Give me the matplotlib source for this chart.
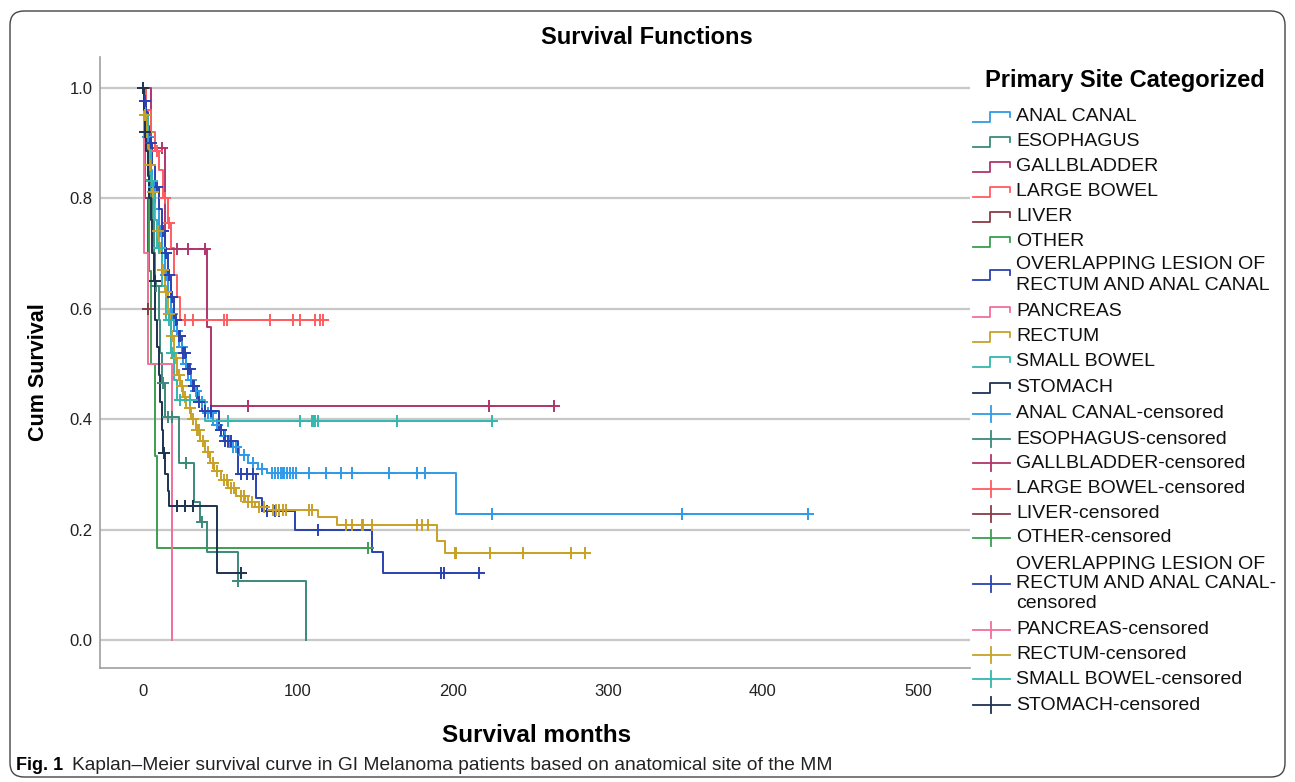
import numpy as np
import matplotlib
matplotlib.use('Agg')
import matplotlib.pyplot as plt
from matplotlib.patches import FancyBboxPatch

plt.rcParams['font.family'] = ['Liberation Sans', 'DejaVu Sans']

# ---- data: event times (months), survival after each event, censor times ----
anal_t = [1, 2, 3, 4, 5, 6, 8, 10, 12, 14, 16, 18, 20, 23, 26, 29, 32, 36, 40, 45, 50, 56, 62, 68, 74, 80, 202]
anal_s = [0.97, 0.94, 0.91, 0.88, 0.85, 0.82, 0.78, 0.74, 0.70, 0.66, 0.62, 0.59, 0.56, 0.53, 0.50, 0.47,
          0.45, 0.43, 0.41, 0.39, 0.37, 0.35, 0.335, 0.32, 0.31, 0.303, 0.228]
anal_c = [3.5, 7, 11, 15, 19, 22, 25, 28, 31, 34, 38, 42, 44, 48, 53, 58, 60, 65, 71, 77, 83, 85, 87, 89,
          90, 91, 93, 95, 97, 99, 107, 118, 128, 135, 159, 177, 182, 225, 348, 429]

eso_t = [1, 2, 3, 4, 5, 6, 7, 8, 10, 11, 12, 14, 23, 33, 37, 41, 61, 105]
eso_s = [0.96, 0.92, 0.88, 0.84, 0.80, 0.76, 0.70, 0.64, 0.58, 0.52, 0.465, 0.404, 0.32, 0.25, 0.213,
         0.16, 0.107, 0.0]
eso_c = [8.5, 13, 16, 19, 28, 38, 61.5]

gall_t = [5, 14, 41, 44]
gall_s = [0.89, 0.707, 0.566, 0.424]
gall_c = [12, 22, 29, 40, 68, 223, 265]

lbow_t = [2, 5, 8, 10, 13, 16, 18, 20, 22, 24]
lbow_s = [0.96, 0.92, 0.885, 0.85, 0.80, 0.755, 0.71, 0.66, 0.62, 0.58]
lbow_c = [9, 14, 17, 27, 32, 52, 54, 82, 97, 101, 111, 114, 116]

liver_t = [1, 3]
liver_s = [0.80, 0.60]
liver_c = [3.5]

other_t = [1, 4, 5, 8, 9]
other_s = [0.833, 0.667, 0.5, 0.333, 0.167]
other_c = [145]

over_t = [1, 2, 3, 4, 6, 8, 10, 12, 14, 16, 18, 20, 22, 25, 28, 31, 35, 38, 49, 52, 61, 73, 77, 98, 148, 155]
over_s = [0.975, 0.955, 0.93, 0.90, 0.86, 0.82, 0.78, 0.74, 0.70, 0.66, 0.62, 0.58, 0.55, 0.52, 0.49, 0.46,
          0.43, 0.415, 0.38, 0.36, 0.30, 0.257, 0.233, 0.20, 0.16, 0.121]
over_c = [1.5, 5, 9, 13, 15, 17, 19, 21, 23, 24, 26, 27, 29, 30, 32, 33, 36, 40, 44, 50, 53, 55, 57, 63,
          67, 71, 80, 85, 88, 113, 192, 194, 217]

panc_t = [0.5, 3, 19]
panc_s = [0.70, 0.50, 0.0]
panc_c = []

rect_t = [0.5, 1, 2, 3, 4, 5, 6, 7, 8, 9, 10, 12, 14, 16, 18, 20, 22, 24, 26, 28, 31, 34, 37, 40, 43, 46,
          50, 55, 60, 66, 72, 80, 113, 125, 190, 195]
rect_s = [0.975, 0.95, 0.92, 0.89, 0.86, 0.84, 0.81, 0.79, 0.76, 0.74, 0.71, 0.67, 0.63, 0.59, 0.55, 0.51,
          0.48, 0.46, 0.44, 0.42, 0.40, 0.38, 0.36, 0.34, 0.32, 0.305, 0.29, 0.275, 0.26, 0.25, 0.24,
          0.235, 0.223, 0.208, 0.18, 0.157]
rect_c = [1.5, 2.5, 4.5, 6.5, 9.5, 11, 13, 15, 17, 19, 21, 23, 25, 27, 30, 32, 35, 36, 39, 42, 45, 48, 52,
          54, 57, 59, 63, 65, 68, 70, 75, 78, 84, 86, 88, 90, 92, 107, 109, 131, 135, 141, 142, 148,
          177, 180, 184, 201, 202, 224, 245, 276, 285]

sbow_t = [1, 3, 5, 7, 9, 12, 15, 18, 20, 22, 40]
sbow_s = [0.95, 0.90, 0.83, 0.76, 0.71, 0.64, 0.58, 0.52, 0.47, 0.434, 0.397]
sbow_c = [6, 10, 17, 19, 24, 30, 55, 101, 109, 110, 111, 113, 164, 225]

stom_t = [0.5, 1, 2, 3, 4, 5, 6, 7, 8, 9, 10, 11, 12, 13, 14, 16, 17, 48]
stom_s = [0.96, 0.92, 0.885, 0.84, 0.80, 0.76, 0.70, 0.65, 0.58, 0.53, 0.48, 0.43, 0.38, 0.338, 0.30,
          0.27, 0.243, 0.121]
stom_c = [0.2, 1.5, 7.5, 13.5, 22, 27, 32, 63]

sites = ['ANAL CANAL', 'ESOPHAGUS', 'GALLBLADDER', 'LARGE BOWEL', 'LIVER', 'OTHER',
         'OVERLAPPING LESION OF\nRECTUM AND ANAL CANAL', 'PANCREAS', 'RECTUM', 'SMALL BOWEL', 'STOMACH']
censor_labels = ['ANAL CANAL-censored', 'ESOPHAGUS-censored', 'GALLBLADDER-censored',
                 'LARGE BOWEL-censored', 'LIVER-censored', 'OTHER-censored',
                 'OVERLAPPING LESION OF\nRECTUM AND ANAL CANAL-\ncensored', 'PANCREAS-censored',
                 'RECTUM-censored', 'SMALL BOWEL-censored', 'STOMACH-censored']
colors = ['#2f9be8', '#3b8a7c', '#b0356c', '#ff5c60', '#8a3a46', '#3c9e50',
          '#2a42b0', '#f0709c', '#c8a127', '#33b7ae', '#1d3350']

series = [(anal_t, anal_s, anal_c), (eso_t, eso_s, eso_c), (gall_t, gall_s, gall_c),
          (lbow_t, lbow_s, lbow_c), (liver_t, liver_s, liver_c), (other_t, other_s, other_c),
          (over_t, over_s, over_c), (panc_t, panc_s, panc_c), (rect_t, rect_s, rect_c),
          (sbow_t, sbow_s, sbow_c), (stom_t, stom_s, stom_c)]


def km_curve(t, s, c):
    end = max(t[-1], max(c) if c else 0)
    x = np.array([0] + list(t) + [end])
    y = np.array([1.0] + list(s) + [s[-1]])
    c = np.array(c, dtype=float)
    idx = np.searchsorted(np.array(t), c, side='right')
    cy = np.concatenate([[1.0], s])[idx] if len(c) else np.array([])
    return x, y, c, cy


fig = plt.figure(figsize=(12.95, 7.82), dpi=100)
ax = fig.add_axes([100 / 1295, 1 - 668 / 782, 870 / 1295, 611 / 782])

for (t, s, c), col in zip(series, colors):
    x, y, cx, cy = km_curve(t, s, c)
    ax.step(x, y, where='post', color=col, lw=1.4, zorder=3)
    if len(cx):
        ax.plot(cx, cy, ls='none', marker='+', ms=9, mew=1.4, color=col, zorder=4)

ax.set_xlim((100 - 143) / 1.55, (970 - 143) / 1.55)
ax.set_ylim((640 - 668) / 552.5, (640 - 57) / 552.5)
ax.set_xticks([0, 100, 200, 300, 400, 500])
ax.set_yticks([0.0, 0.2, 0.4, 0.6, 0.8, 1.0])
ax.set_yticklabels(['0.0', '0.2', '0.4', '0.6', '0.8', '1.0'])
ax.tick_params(length=0, labelsize=12, colors='#222222')
ax.tick_params(axis='x', pad=11.5)
ax.tick_params(axis='y', pad=5.5)
ax.grid(axis='y', color='#c8c8c8', lw=1.6, zorder=0)
for side in ['top', 'right']:
    ax.spines[side].set_visible(False)
for side in ['left', 'bottom']:
    ax.spines[side].set_color('#a0a0a0')
    ax.spines[side].set_linewidth(1.2)

# overlay in pixel coordinates for texts, legend and frame
lax = fig.add_axes([0, 0, 1, 1], zorder=-1)
lax.set_xlim(0, 1295)
lax.set_ylim(782, 0)
lax.axis('off')
lax.add_patch(FancyBboxPatch((10, 11), 1275, 766, boxstyle='round,pad=0,rounding_size=14',
                             fc='none', ec='#444444', lw=1.0))

fig.text(647 / 1295, 1 - 37 / 782, 'Survival Functions', ha='center', va='center',
         fontsize=17, fontweight='bold')
fig.text(38 / 1295, 1 - 372 / 782, 'Cum Survival', ha='center', va='center', rotation=90,
         fontsize=15.5, fontweight='bold')
fig.text(537 / 1295, 1 - 735 / 782, 'Survival months', ha='center', va='center',
         fontsize=17.5, fontweight='bold')
fig.text(985 / 1295, 1 - 80 / 782, 'Primary Site Categorized', ha='left', va='center',
         fontsize=17, fontweight='bold')

# legend
ov = fig.add_axes([0, 0, 1, 1])
ov.set_xlim(0, 1295)
ov.set_ylim(782, 0)
ov.axis('off')
step_y = [116.7, 141.7, 166.7, 191.7, 216.7, 241.7, 275, 311.7, 336.7, 361.7, 387.5]
cens_y = [414, 439, 463, 488.5, 513.5, 538, 584, 629.5, 654.5, 679, 705]
for lab, col, yy in zip(sites, colors, step_y):
    ov.plot([973, 990, 990, 1010, 1010], [yy + 5, yy + 5, yy - 5, yy - 5, yy], color=col, lw=1.3)
    ov.text(1016, yy, lab, ha='left', va='center', fontsize=14, linespacing=1.35, color='#111111')
for lab, col, yy in zip(censor_labels, colors, cens_y):
    ov.plot([973, 1010], [yy, yy], color=col, lw=1.3)
    ov.plot([991, 991], [yy - 8, yy + 8], color=col, lw=1.3)
    ov.text(1016, yy, lab, ha='left', va='center', fontsize=14, linespacing=1.2, color='#111111')

ov.text(16, 765, 'Fig. 1', ha='left', va='center', fontsize=13, fontweight='bold')
ov.text(72, 765, 'Kaplan\u2013Meier survival curve in GI Melanoma patients based on anatomical site of the MM',
        ha='left', va='center', fontsize=13.8, color='#222222')

fig.savefig('out.png', dpi=100)
